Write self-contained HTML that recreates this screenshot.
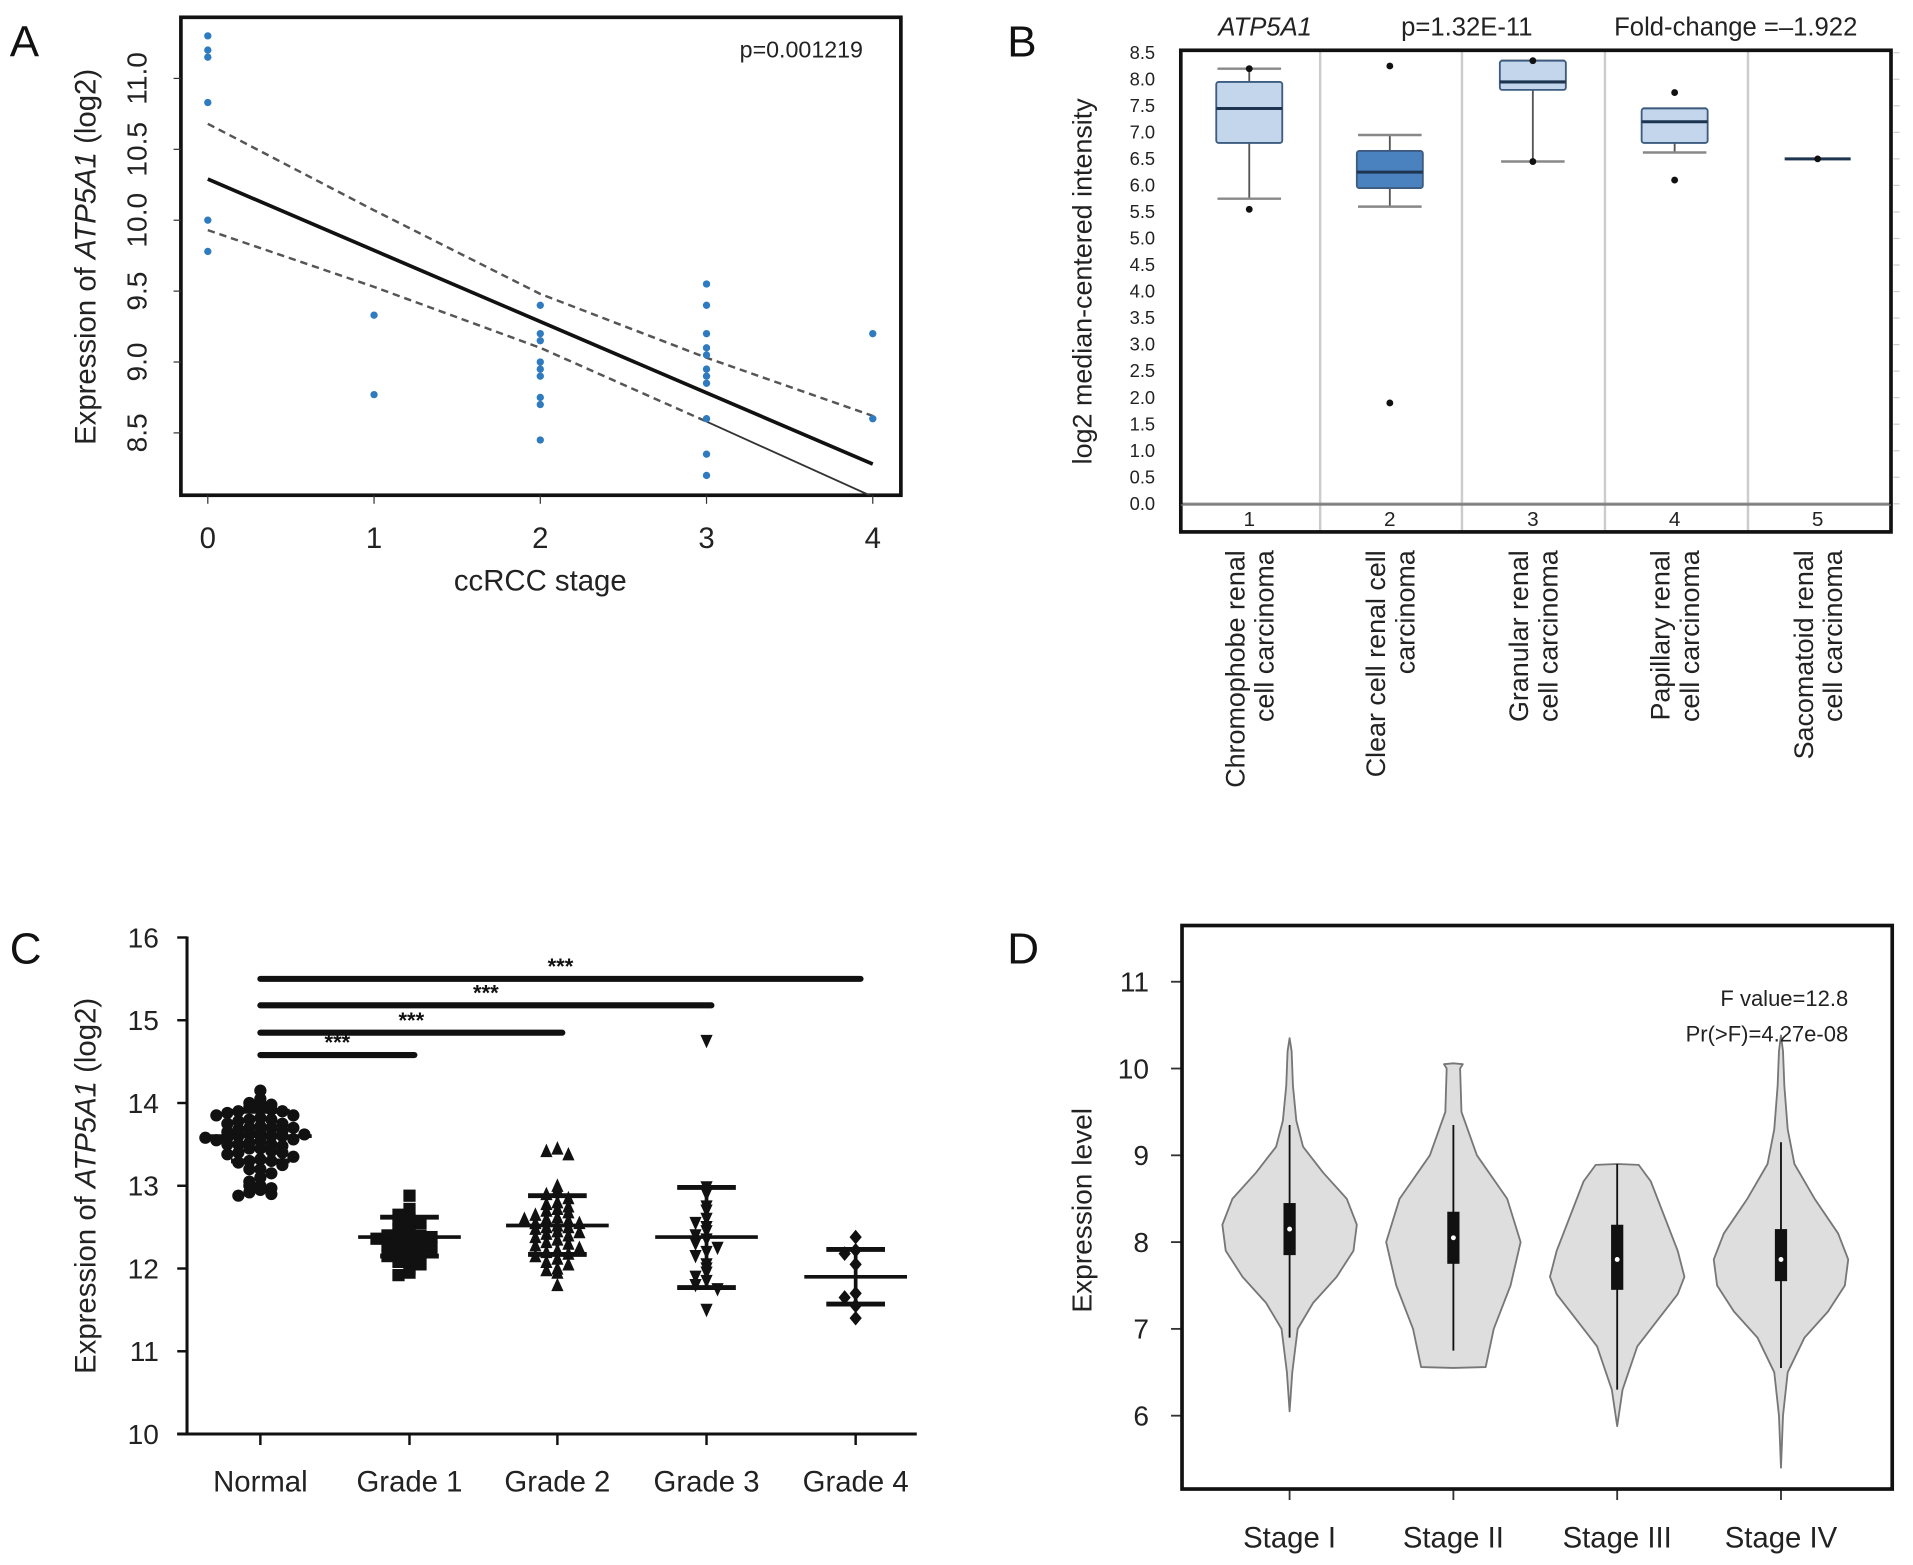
<!DOCTYPE html>
<html><head><meta charset="utf-8"><style>
html,body{margin:0;padding:0;background:#fff;}
svg{display:block;font-family:"Liberation Sans",Arial,sans-serif;}
</style></head><body>
<svg id="fig" width="1913" height="1565" viewBox="0 0 1565 1280" xmlns="http://www.w3.org/2000/svg" font-family="Liberation Sans, Arial, sans-serif">
<rect width="1565" height="1280" fill="#fff"/>
<g id="pA"></g>
<g id="pB"></g>
<g id="pC"></g>
<g id="pD"></g>
</svg>
<script>
// ---------- data ----------
// Panel A
const aStages=[0,1,2,3,4];
const aYTicks=[8.5,9.0,9.5,10.0,10.5,11.0];
const aPtsX=[0,0,0,0,0,0, 1,1, 2,2,2,2,2,2,2,2,2, 3,3,3,3,3,3,3,3,3,3,3, 4,4];
const aPtsY=[11.3,11.2,11.15,10.83,10.0,9.78, 9.33,8.77, 9.4,9.2,9.15,9.0,8.95,8.9,8.75,8.7,8.45, 9.55,9.4,9.2,9.1,9.05,8.95,8.9,8.85,8.6,8.35,8.2, 9.2,8.6];
const aFit=[10.29,8.28];
const aUpper=[10.68,10.07,9.48,9.03,8.62];
const aLower=[9.93,9.53,9.1,8.58,8.05];
// Panel B
const bYTicks=[0,0.5,1,1.5,2,2.5,3,3.5,4,4.5,5,5.5,6,6.5,7,7.5,8,8.5];
const bCats=[["Chromophobe renal","cell carcinoma"],["Clear cell renal cell","carcinoma"],["Granular renal","cell carcinoma"],["Papillary renal","cell carcinoma"],["Sacomatoid renal","cell carcinoma"]];
const bWhiskLo=[5.75,5.6,6.45,6.62,6.5];
const bQ1=[6.8,5.95,7.8,6.8,6.5];
const bMed=[7.45,6.25,7.95,7.2,6.5];
const bQ3=[7.95,6.65,8.35,7.45,6.5];
const bWhiskHi=[8.2,6.95,8.35,7.45,6.5];
const bOutliers=[[5.55,8.2],[8.25,1.9],[8.35,6.45],[7.75,6.1],[6.5]];
// Panel C
const cCats=["Normal","Grade 1","Grade 2","Grade 3","Grade 4"];
const cYTicks=[10,11,12,13,14,15,16];
const cNormal=[14.15,14.05,14.0,14.0,13.98,13.95,13.95,13.92,13.9,13.9,13.88,13.85,13.85,13.82,13.8,13.8,13.78,13.75,13.75,13.72,13.7,13.7,13.68,13.66,13.65,13.64,13.62,13.6,13.6,13.6,13.58,13.56,13.55,13.54,13.52,13.5,13.5,13.48,13.45,13.45,13.42,13.4,13.4,13.38,13.35,13.32,13.3,13.3,13.28,13.25,13.2,13.2,13.15,13.1,13.05,13.0,13.0,12.97,12.95,12.92,12.9,12.88,13.62,13.58,13.7,13.5];
const cG1=[12.88,12.72,12.65,12.6,12.58,12.55,12.5,12.48,12.45,12.42,12.4,12.4,12.38,12.36,12.35,12.32,12.3,12.28,12.25,12.22,12.2,12.18,12.15,12.12,12.08,12.05,12.0,11.95,11.92];
const cG2=[13.45,13.42,13.38,13.0,12.95,12.9,12.85,12.8,12.78,12.75,12.72,12.7,12.68,12.65,12.62,12.6,12.58,12.55,12.55,12.52,12.5,12.5,12.48,12.45,12.42,12.4,12.38,12.35,12.32,12.3,12.28,12.25,12.22,12.2,12.18,12.15,12.12,12.08,12.05,12.0,11.98,11.95,11.8,12.6,12.44];
const cG3=[14.75,12.98,12.9,12.75,12.7,12.6,12.55,12.5,12.45,12.4,12.35,12.3,12.25,12.2,12.15,12.05,12.0,11.95,11.9,11.85,11.8,11.75,11.5];
const cG4=[12.38,12.22,12.18,12.05,11.7,11.65,11.55,11.4];
const cMean=[13.6,12.38,12.52,12.38,11.9];
const cSdLo=[13.3,12.15,12.17,11.77,11.57];
const cSdHi=[13.9,12.62,12.88,12.98,12.23];
const cSigTo=[1,2,3,4];
const cSigY=[14.58,14.85,15.18,15.5];
// Panel D
const dCats=["Stage I","Stage II","Stage III","Stage IV"];
const dYTicks=[6,7,8,9,10,11];
const dDensV=[[6.05,6.5,7.0,7.3,7.6,7.9,8.2,8.5,8.8,9.1,9.4,9.8,10.2,10.35],
 [6.55,6.56,7.0,7.5,8.0,8.5,9.0,9.5,10.0,10.05,10.06],
 [5.88,6.3,6.8,7.1,7.4,7.6,7.9,8.3,8.7,8.89,8.9],
 [5.4,6.0,6.5,6.9,7.2,7.5,7.8,8.1,8.5,8.9,9.3,9.8,10.2,10.38]];
const dDensW=[[0,0.04,0.12,0.35,0.7,0.95,1.0,0.85,0.5,0.2,0.1,0.05,0.03,0],
 [0,0.48,0.6,0.85,1.0,0.8,0.35,0.12,0.1,0.14,0],
 [0,0.08,0.3,0.6,0.9,1.0,0.9,0.7,0.5,0.32,0],
 [0,0.03,0.1,0.35,0.7,0.95,1.0,0.85,0.5,0.2,0.1,0.05,0.03,0]];
const dQ1=[7.85,7.75,7.45,7.55];
const dMed=[8.15,8.05,7.8,7.8];
const dQ3=[8.45,8.35,8.2,8.15];
const dWLo=[6.9,6.75,6.3,6.55];
const dWHi=[9.35,9.35,8.9,9.15];

// ---------- helpers ----------
const NS="http://www.w3.org/2000/svg";
function mk(parent,tag,attrs,txt){const e=document.createElementNS(NS,tag);for(const k in attrs)e.setAttribute(k,attrs[k]);if(txt!==undefined)e.textContent=txt;parent.appendChild(e);return e;}

// ---------- Panel A ----------
(function(){
const g=document.getElementById('pA');
const xA=s=>170+s*136, yA=v=>64+(11-v)*116;
let t=mk(g,'text',{x:8,y:46,'font-size':36,fill:'#111'},'A');


let r=mk(g,'rect',{x:148,y:14,width:589,height:391,fill:'none',stroke:'#111','stroke-width':3});


aYTicks.forEach(v=>{
 mk(g,'line',{x1:142,x2:148,y1:yA(v),y2:yA(v),stroke:'#333','stroke-width':1});
 const tx=mk(g,'text',{x:0,y:0,'font-size':23,fill:'#222','text-anchor':'middle',transform:`translate(120,${yA(v)}) rotate(-90)`},v.toFixed(1));
 
 
});
aStages.forEach(s=>{
 mk(g,'line',{x1:xA(s),x2:xA(s),y1:405,y2:412,stroke:'#333','stroke-width':1});
 const tx=mk(g,'text',{x:xA(s),y:448,'font-size':24,fill:'#222','text-anchor':'middle'},String(s));
 
 
});
let xt=mk(g,'text',{x:442,y:483,'font-size':24,fill:'#222','text-anchor':'middle'},'ccRCC stage');


let yt=mk(g,'text',{x:0,y:0,'font-size':24,fill:'#222','text-anchor':'middle',transform:'translate(78,210) rotate(-90)'});


mk(yt,'tspan',{},'Expression of ');mk(yt,'tspan',{'font-style':'italic'},'ATP5A1');mk(yt,'tspan',{},' (log2)');
let pv=mk(g,'text',{x:706,y:47,'font-size':19,fill:'#222','text-anchor':'end'},'p=0.001219');


const cp=mk(g,'clipPath',{id:'clipA'});mk(cp,'rect',{x:148,y:14,width:589,height:391});
const lg=mk(g,'g',{'clip-path':'url(#clipA)'});
const up=mk(lg,'polyline',{points:aUpper.map((v,i)=>xA(i)+','+yA(v)).join(' '),fill:'none',stroke:'#555','stroke-width':2,'stroke-dasharray':'6,4'});


const lo=mk(lg,'polyline',{points:aLower.slice(0,4).map((v,i)=>xA(i)+','+yA(v)).join(' '),fill:'none',stroke:'#555','stroke-width':2,'stroke-dasharray':'6,4'});


const lo2=mk(lg,'line',{x1:xA(3),y1:yA(aLower[3]),x2:xA(4),y2:yA(aLower[4]),stroke:'#333','stroke-width':1.5});


const fit=mk(lg,'line',{x1:xA(0),y1:yA(aFit[0]),x2:xA(4),y2:yA(aFit[1]),stroke:'#111','stroke-width':3});


aPtsX.forEach((s,i)=>{
 const c=mk(g,'circle',{cx:xA(s),cy:yA(aPtsY[i]),r:3,fill:'#2f7bbf'});
 
 
});
})();

// ---------- Panel B ----------
(function(){
const g=document.getElementById('pB');
const yB=v=>412-v*(369/8.5);
const xs=[1022,1137,1254,1370,1487];
let t=mk(g,'text',{x:824,y:46,'font-size':36,fill:'#111'},'B');


[['ATP5A1',1035,'italic'],['p=1.32E-11',1200,'normal'],['Fold-change =\u20131.922',1420,'normal']].forEach((h,i)=>{
 const tx=mk(g,'text',{x:h[1],y:29,'font-size':21,fill:'#222','text-anchor':'middle','font-style':h[2]},h[0]);
 
 
});
[1080,1196,1313,1430].forEach(x=>mk(g,'line',{x1:x,x2:x,y1:42,y2:435,stroke:'#ccc','stroke-width':2}));
mk(g,'line',{x1:966,x2:1547,y1:yB(0),y2:yB(0),stroke:'#888','stroke-width':2});
bYTicks.forEach(v=>{
 const tx=mk(g,'text',{x:945,y:yB(v)+5,'font-size':15,fill:'#222','text-anchor':'end'},v.toFixed(1));
 
 
 mk(g,'line',{x1:1549,x2:1554,y1:yB(v),y2:yB(v),stroke:'#ccc','stroke-width':1});
});
let yt=mk(g,'text',{x:0,y:0,'font-size':22,fill:'#222','text-anchor':'middle',transform:'translate(893,230) rotate(-90)'},'log2 median-centered intensity');


xs.forEach((x,i)=>{
 const fill=i===1?'#4a82bf':'#c3d6ec';
 const bg=mk(g,'g',{});
 
 
 mk(bg,'line',{x1:x,x2:x,y1:yB(bWhiskLo[i]),y2:yB(bWhiskHi[i]),stroke:'#555','stroke-width':1.5});
 mk(bg,'line',{x1:x-26,x2:x+26,y1:yB(bWhiskLo[i]),y2:yB(bWhiskLo[i]),stroke:'#888','stroke-width':2});
 mk(bg,'line',{x1:x-26,x2:x+26,y1:yB(bWhiskHi[i]),y2:yB(bWhiskHi[i]),stroke:'#888','stroke-width':2});
 if(bQ3[i]>bQ1[i]) mk(bg,'rect',{x:x-27,y:yB(bQ3[i]),width:54,height:yB(bQ1[i])-yB(bQ3[i]),fill:fill,stroke:'#3d5c80','stroke-width':1.5,rx:2});
 mk(bg,'line',{x1:x-27,x2:x+27,y1:yB(bMed[i]),y2:yB(bMed[i]),stroke:'#1d3550','stroke-width':2.5});
 bOutliers[i].forEach(o=>mk(bg,'circle',{cx:x,cy:yB(o),r:2.8,fill:'#111'}));
 const n=mk(g,'text',{x:x,y:430,'font-size':17,fill:'#222','text-anchor':'middle'},String(i+1));
 
 
 const cl=mk(g,'text',{x:0,y:0,'font-size':22,fill:'#222','text-anchor':'end',transform:`translate(${x-4},450) rotate(-90)`});
 
 
 mk(cl,'tspan',{x:0,dy:0},bCats[i][0]);mk(cl,'tspan',{x:0,dy:24},bCats[i][1]);
});
let r=mk(g,'rect',{x:966,y:41,width:581,height:394,fill:'none',stroke:'#111','stroke-width':3});


mk(g,'line',{x1:966,x2:1547,y1:yB(0)+1,y2:yB(0)+1,stroke:'#777','stroke-width':1});
})();

// ---------- Panel C ----------
(function(){
const g=document.getElementById('pC');
const yC=v=>1173-(v-10)*67.7;
const xs=[213,335,456,578,700];
let t=mk(g,'text',{x:8,y:788,'font-size':36,fill:'#111'},'C');


mk(g,'line',{x1:153,x2:153,y1:766,y2:1174,stroke:'#111','stroke-width':2.5});
mk(g,'line',{x1:145,x2:750,y1:1173,y2:1173,stroke:'#111','stroke-width':2.5});
cYTicks.forEach(v=>{
 mk(g,'line',{x1:145,x2:153,y1:yC(v),y2:yC(v),stroke:'#111','stroke-width':2});
 const tx=mk(g,'text',{x:130,y:yC(v)+8,'font-size':23,fill:'#222','text-anchor':'end'},String(v));
 
 
});
xs.forEach((x,i)=>{
 mk(g,'line',{x1:x,x2:x,y1:1173,y2:1182,stroke:'#111','stroke-width':2});
 const tx=mk(g,'text',{x:x,y:1220,'font-size':24,fill:'#222','text-anchor':'middle'},cCats[i]);
 
 
});
let yt=mk(g,'text',{x:0,y:0,'font-size':24,fill:'#222','text-anchor':'middle',transform:'translate(78,970) rotate(-90)'});


mk(yt,'tspan',{},'Expression of ');mk(yt,'tspan',{'font-style':'italic'},'ATP5A1');mk(yt,'tspan',{},' (log2)');
cSigTo.forEach((j,i)=>{
 const x2=xs[j]+4;
 const b=mk(g,'line',{x1:213,x2:x2,y1:yC(cSigY[i]),y2:yC(cSigY[i]),stroke:'#111','stroke-width':5,'stroke-linecap':'round'});
 
 
 const s=mk(g,'text',{x:(213+x2)/2,y:yC(cSigY[i])-4,'font-size':18,'font-weight':'bold',fill:'#111','text-anchor':'middle'},'***');
 
 
});
const groups=[cNormal,cG1,cG2,cG3,cG4];
const shapes=['circle','square','tri','tridown','diamond'];
function marker(par,shape,x,y){
 const s=5;
 if(shape==='circle') return mk(par,'circle',{cx:x,cy:y,r:s,fill:'#111'});
 if(shape==='square') return mk(par,'rect',{x:x-s,y:y-s,width:2*s,height:2*s,fill:'#111'});
 if(shape==='tri') return mk(par,'polygon',{points:`${x},${y-s-1} ${x-s},${y+s} ${x+s},${y+s}`,fill:'#111'});
 if(shape==='tridown') return mk(par,'polygon',{points:`${x},${y+s+1} ${x-s},${y-s} ${x+s},${y-s}`,fill:'#111'});
 return mk(par,'polygon',{points:`${x},${y-s-1} ${x+s},${y} ${x},${y+s+1} ${x-s},${y}`,fill:'#111'});
}
groups.forEach((vals,gi)=>{
 const gg=mk(g,'g',{});
 
 
 const bins={};
 vals.forEach(v=>{
  const k=Math.round(v/0.1);
  bins[k]=(bins[k]||0)+1;
  const n=bins[k]-1;
  const off=(n%2===0?1:-1)*Math.ceil(n/2)*9;
  const m=marker(gg,shapes[gi],xs[gi]+off,yC(v));
  
  
 });
 mk(gg,'line',{x1:xs[gi]-42,x2:xs[gi]+42,y1:yC(cMean[gi]),y2:yC(cMean[gi]),stroke:'#111','stroke-width':3});
 mk(gg,'line',{x1:xs[gi],x2:xs[gi],y1:yC(cSdHi[gi]),y2:yC(cSdLo[gi]),stroke:'#111','stroke-width':3});
 mk(gg,'line',{x1:xs[gi]-24,x2:xs[gi]+24,y1:yC(cSdHi[gi]),y2:yC(cSdHi[gi]),stroke:'#111','stroke-width':4});
 mk(gg,'line',{x1:xs[gi]-24,x2:xs[gi]+24,y1:yC(cSdLo[gi]),y2:yC(cSdLo[gi]),stroke:'#111','stroke-width':4});
});
})();

// ---------- Panel D ----------
(function(){
const g=document.getElementById('pD');
const yD=v=>1158-(v-6)*71;
const xs=[1055,1189,1323,1457];
const maxW=55;
let t=mk(g,'text',{x:824,y:788,'font-size':36,fill:'#111'},'D');


dYTicks.forEach(v=>{
 mk(g,'line',{x1:958,x2:967,y1:yD(v),y2:yD(v),stroke:'#333','stroke-width':1.5});
 const tx=mk(g,'text',{x:940,y:yD(v)+8,'font-size':23,fill:'#222','text-anchor':'end'},String(v));
 
 
});
let yt=mk(g,'text',{x:0,y:0,'font-size':23,fill:'#222','text-anchor':'middle',transform:'translate(893,990) rotate(-90)'},'Expression level');


xs.forEach((x,i)=>{
 const vg=mk(g,'g',{});
 
 
 const V=dDensV[i],W=dDensW[i];
 let pts=V.map((v,k)=>`${x+W[k]*maxW},${yD(v)}`);
 let pts2=V.slice().reverse().map((v,k)=>`${x-W[V.length-1-k]*maxW},${yD(v)}`);
 mk(vg,'path',{d:'M'+pts.join(' L')+' L'+pts2.join(' L')+'Z',fill:'#dedede',stroke:'#777','stroke-width':1.5,'stroke-linejoin':'round'});
 mk(vg,'line',{x1:x,x2:x,y1:yD(dWLo[i]),y2:yD(dWHi[i]),stroke:'#111','stroke-width':1.5});
 mk(vg,'rect',{x:x-5,y:yD(dQ3[i]),width:10,height:yD(dQ1[i])-yD(dQ3[i]),fill:'#111'});
 mk(vg,'circle',{cx:x,cy:yD(dMed[i]),r:2,fill:'#fff'});
 mk(g,'line',{x1:x,x2:x,y1:1218,y2:1227,stroke:'#333','stroke-width':1.5});
 const tx=mk(g,'text',{x:x,y:1266,'font-size':24,fill:'#222','text-anchor':'middle'},dCats[i]);
 
 
});
let r=mk(g,'rect',{x:967,y:757,width:581,height:461,fill:'none',stroke:'#111','stroke-width':3});


let f1=mk(g,'text',{x:1512,y:823,'font-size':18,fill:'#222','text-anchor':'end'},'F value=12.8');


let f2=mk(g,'text',{x:1512,y:852,'font-size':18,fill:'#222','text-anchor':'end'},'Pr(>F)=4.27e-08');


})();
</script>
</body></html>
